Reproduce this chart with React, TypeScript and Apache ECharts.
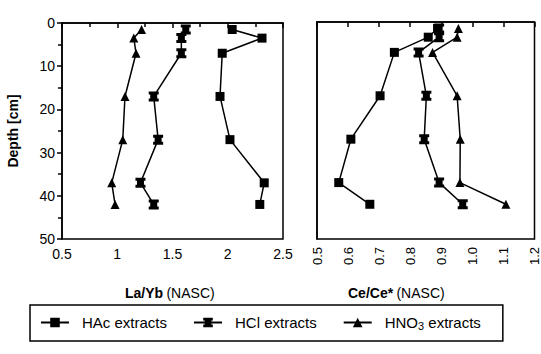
import React, { useEffect, useRef } from "react";
import * as echarts from "echarts";

const depths = [1.5, 3.5, 7, 17, 27, 37, 42];
const laYbHAc = [2.04, 2.31, 1.95, 1.93, 2.02, 2.33, 2.29];
const laYbHCl = [1.62, 1.58, 1.58, 1.33, 1.37, 1.21, 1.33];
const laYbHNO3 = [1.22, 1.15, 1.17, 1.07, 1.05, 0.95, 0.98];
const ceHAc = [0.888, 0.858, 0.749, 0.703, 0.609, 0.57, 0.67];
const ceHCl = [0.893, 0.893, 0.827, 0.852, 0.845, 0.893, 0.969];
const ceHNO3 = [0.955, 0.951, 0.872, 0.951, 0.961, 0.96, 1.108];
const seriesNames = ["HAc extracts", "HCl extracts", "HNO3 extracts"];

const FONT = "Liberation Sans";
const hclSymbol = "path://M0,0 H10 V3 H8.5 V7 H10 V10 H0 V7 H1.5 V3 H0 Z";

export default function App() {
  const ref = useRef<HTMLDivElement>(null);
  useEffect(() => {
    if (!ref.current) return;
    const chart = echarts.init(ref.current, undefined, { renderer: "svg" });
    const pair = (xs: number[]) => xs.map((x, i) => [x, depths[i]]);
    const symbols = ["rect", hclSymbol, "triangle"];
    const sizes = [9, 10, 9];
    const mk = (name: string, idx: number, data: number[][], grid: number) => ({
      type: "line",
      name,
      xAxisIndex: grid,
      yAxisIndex: grid,
      data,
      symbol: symbols[idx],
      symbolSize: sizes[idx],
      showSymbol: true,
      lineStyle: { color: "#000", width: 1.5 },
      itemStyle: { color: "#000", borderColor: "#000", borderWidth: 0 },
    });
    const axisCommon = {
      axisLine: { show: true, lineStyle: { color: "#000", width: 1.5 } },
      axisTick: { show: true, inside: false, length: 5, lineStyle: { color: "#000", width: 1.5 } },
      splitLine: { show: false },
      axisLabel: { color: "#000", fontFamily: FONT, fontSize: 13 },
    };
    chart.setOption({
      animation: false,
      backgroundColor: "#fff",
      grid: [
        { left: 62, right: 258, top: 23, bottom: 115, show: true, borderColor: "#000", borderWidth: 1.5 },
        { left: 317, right: 5, top: 22, bottom: 115, show: true, borderColor: "#000", borderWidth: 1.5 },
      ],
      xAxis: [
        {
          ...axisCommon,
          type: "value",
          gridIndex: 0,
          min: 0.5,
          max: 2.5,
          interval: 0.5,
          minorTick: { show: true, splitNumber: 2, length: 4, lineStyle: { color: "#000", width: 1.5 } },
          axisLabel: { ...axisCommon.axisLabel, fontSize: 14, margin: 8 },
        },
        {
          ...axisCommon,
          type: "value",
          gridIndex: 1,
          min: 0.5,
          max: 1.2,
          interval: 0.1,
          axisLabel: {
            ...axisCommon.axisLabel,
            rotate: 90,
            margin: 8,
            formatter: (v: number) => v.toFixed(1),
          },
        },
      ],
      yAxis: [
        {
          ...axisCommon,
          type: "value",
          gridIndex: 0,
          inverse: true,
          min: 0,
          max: 50,
          interval: 10,
          minorTick: { show: true, splitNumber: 2, length: 4, lineStyle: { color: "#000", width: 1.5 } },
          name: "Depth [cm]",
          nameLocation: "middle",
          nameGap: 42,
          nameTextStyle: { color: "#000", fontFamily: FONT, fontSize: 14, fontWeight: "bold" },
          axisLabel: { ...axisCommon.axisLabel, fontSize: 14, margin: 7 },
        },
        {
          ...axisCommon,
          type: "value",
          gridIndex: 1,
          inverse: true,
          min: 0,
          max: 50,
          interval: 10,
          axisTick: { show: false },
          axisLabel: { show: false },
        },
      ],
      graphic: [
        {
          type: "text",
          left: 125,
          top: 286,
          style: {
            text: "{b|La/Yb} {n|(NASC)}",
            rich: {
              b: { fontFamily: FONT, fontSize: 14, fontWeight: "bold", fill: "#000" },
              n: { fontFamily: FONT, fontSize: 14, fill: "#000" },
            },
          },
        },
        {
          type: "text",
          left: 348,
          top: 286,
          style: {
            text: "{b|Ce/Ce*} {n|(NASC)}",
            rich: {
              b: { fontFamily: FONT, fontSize: 14, fontWeight: "bold", fill: "#000" },
              n: { fontFamily: FONT, fontSize: 14, fill: "#000" },
            },
          },
        },
      ],
      legend: {
        data: seriesNames,
        left: 30,
        top: 305,
        width: 490,
        padding: [10, 22, 10, 10],
        borderColor: "#000",
        borderWidth: 1.5,
        itemWidth: 28,
        itemHeight: 12,
        itemGap: 26,
        formatter: (name: string) => (name === "HNO3 extracts" ? "HNO{sub|3} extracts" : name),
        textStyle: {
          color: "#000",
          fontFamily: FONT,
          fontSize: 15,
          padding: [0, 0, 0, 8],
          rich: {
            sub: { fontFamily: FONT, fontSize: 11, verticalAlign: "bottom", padding: [6, 0, 0, 0], color: "#000" },
          },
        },
      },
      series: [
        mk(seriesNames[0], 0, pair(laYbHAc), 0),
        mk(seriesNames[1], 1, pair(laYbHCl), 0),
        mk(seriesNames[2], 2, pair(laYbHNO3), 0),
        mk(seriesNames[0], 0, pair(ceHAc), 1),
        mk(seriesNames[1], 1, pair(ceHCl), 1),
        mk(seriesNames[2], 2, pair(ceHNO3), 1),
      ],
    });
    return () => chart.dispose();
  }, []);
  return <div ref={ref} style={{ width: 541, height: 354, position: "absolute", left: 0, top: 0 }} />;
}
